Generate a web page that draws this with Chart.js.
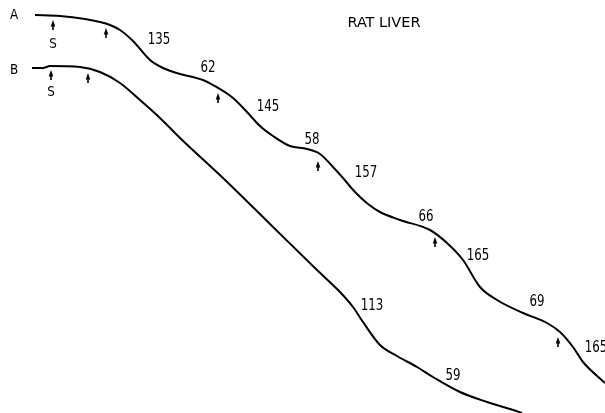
<!DOCTYPE html>
<html>
<head>
<meta charset="utf-8">
<script src="https://cdn.jsdelivr.net/npm/chart.js@4"></script>
<style>
  html, body { margin: 0; padding: 0; background: #fff; }
  #wrap { width: 605px; height: 413px; }
</style>
</head>
<body>
<div id="wrap"><canvas id="myChart"></canvas></div>
<script>
// trace positions (x along chart, y = distance down the paper)
var traceA = [
  {x:35,y:15},{x:60,y:16},{x:85,y:19},{x:100,y:22},{x:110,y:25},{x:120,y:30},{x:133,y:41},
  {x:150,y:60},{x:163,y:68},{x:180,y:74},{x:193,y:77},{x:203,y:80},{x:213,y:85},{x:233,y:98},
  {x:247,y:112},{x:260,y:126},{x:273,y:136},{x:290,y:146},{x:307,y:149},{x:320,y:154},
  {x:333,y:167},{x:343,y:178},{x:355,y:192},{x:368,y:204},{x:380,y:212},{x:400,y:220},
  {x:430,y:230},{x:447,y:243},{x:463,y:260},{x:480,y:287},{x:497,y:300},{x:523,y:313},
  {x:547,y:323},{x:560,y:332},{x:573,y:347},{x:583,y:362},{x:605,y:383}
];
var traceB = [
  {x:32,y:68},{x:43,y:68},{x:50,y:66},{x:80,y:67},{x:100,y:72},{x:120,y:83},{x:140,y:100},
  {x:160,y:118},{x:180,y:138},{x:223,y:178},{x:270,y:224},{x:317,y:270},{x:340,y:292},
  {x:353,y:307},{x:363,y:322},{x:380,y:345},{x:397,y:356},{x:417,y:367},{x:433,y:377},
  {x:460,y:392},{x:487,y:402},{x:510,y:409},{x:522,y:413}
];
// additions marked by arrows (tip positions)
var arrowsA = [{x:53,y:20},{x:106,y:28},{x:218,y:93},{x:318,y:161},{x:435,y:237},{x:558,y:337}];
var arrowsB = [{x:51,y:70},{x:88,y:73}];
// rate labels (numbers along the traces)
var labelsA = [
  {x:159,y:40,t:'135'},{x:208,y:68,t:'62'},{x:268,y:107,t:'145'},{x:312,y:140,t:'58'},
  {x:366,y:173,t:'157'},{x:426,y:217,t:'66'},{x:478,y:256,t:'165'},{x:537,y:302,t:'69'},
  {x:596,y:348,t:'165'}
];
var labelsB = [{x:372,y:306,t:'113'},{x:453,y:376,t:'59'}];
var otherText = [
  {x:14,y:15,t:'A'},{x:14,y:70,t:'B'},{x:53,y:44,t:'S'},{x:51,y:92,t:'S'},
  {x:384,y:23,t:'RAT LIVER'}
];

var FONT = '"DejaVu Sans Condensed", "Liberation Sans", sans-serif';

function drawText(c, t, px, py, size, sx) {
  c.save();
  c.translate(px, py);
  c.scale(sx, 1);
  c.font = size + 'px ' + FONT;
  c.fillText(t, 0, 0);
  c.restore();
}

var decor = {
  id: 'decor',
  afterDatasetsDraw: function(chart) {
    var c = chart.ctx;
    var xs = chart.scales.x, ys = chart.scales.y;
    c.save();
    c.fillStyle = '#000';
    c.strokeStyle = '#000';
    arrowsA.concat(arrowsB).forEach(function(a) {
      var px = xs.getPixelForValue(a.x), py = ys.getPixelForValue(a.y);
      c.beginPath();
      c.moveTo(px, py);
      c.lineTo(px - 2.3, py + 6.5);
      c.lineTo(px + 2.3, py + 6.5);
      c.closePath();
      c.fill();
      c.lineWidth = 1.6;
      c.beginPath();
      c.moveTo(px, py + 5);
      c.lineTo(px, py + 10);
      c.stroke();
    });
    c.textAlign = 'center';
    c.textBaseline = 'middle';
    labelsA.concat(labelsB).forEach(function(l) {
      drawText(c, l.t, xs.getPixelForValue(l.x), ys.getPixelForValue(l.y), 16, 0.82);
    });
    otherText.forEach(function(l) {
      var sx = l.t.length > 1 ? 1.15 : 0.95;
      drawText(c, l.t, xs.getPixelForValue(l.x), ys.getPixelForValue(l.y), 14, sx);
    });
    c.restore();
  }
};

var ctx = document.getElementById('myChart').getContext('2d');
var myChart = new Chart(ctx, {
  type: 'line',
  data: {
    datasets: [
      { label: 'A', data: traceA, borderColor: '#000', borderWidth: 2, pointRadius: 0, cubicInterpolationMode: 'monotone', fill: false },
      { label: 'B', data: traceB, borderColor: '#000', borderWidth: 2, pointRadius: 0, cubicInterpolationMode: 'monotone', fill: false }
    ]
  },
  options: {
    responsive: true,
    maintainAspectRatio: false,
    animation: false,
    layout: { padding: 0 },
    plugins: { legend: { display: false }, tooltip: { enabled: false } },
    scales: {
      x: { type: 'linear', min: 0, max: 605, display: false },
      y: { type: 'linear', min: 0, max: 413, reverse: true, display: false }
    }
  },
  plugins: [decor]
});
</script>
</body>
</html>
